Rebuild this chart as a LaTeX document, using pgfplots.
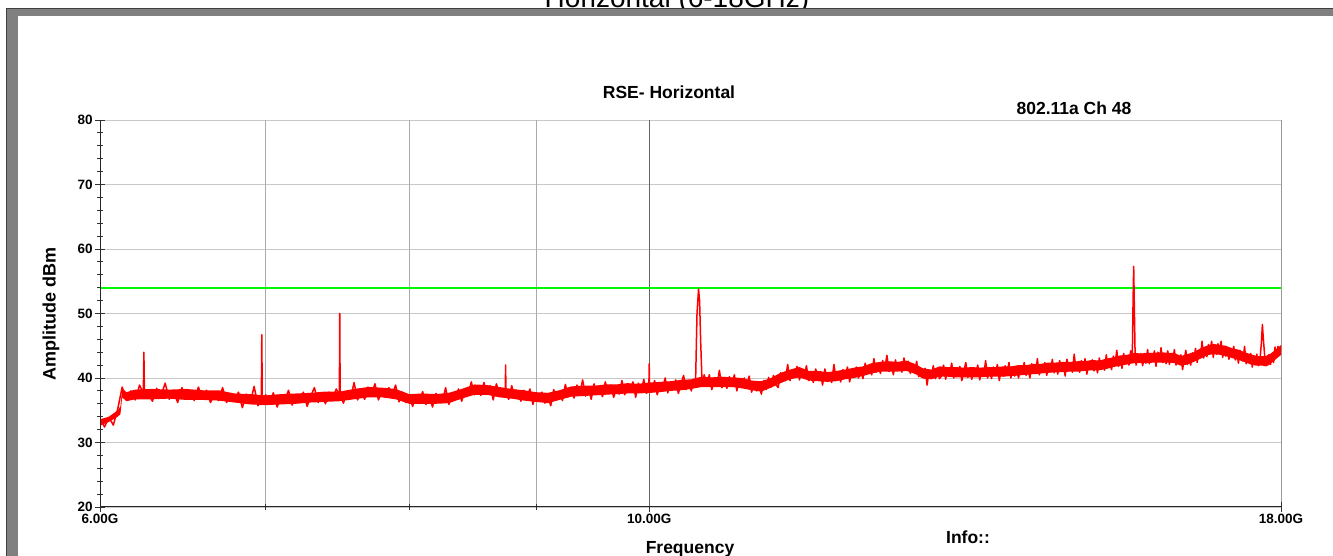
\documentclass[border=0pt]{standalone}
\usepackage{pgfplots}
\pgfplotsset{compat=1.18}
\usepackage{pgfplotstable}
\usepackage{fontspec}
\setmainfont{Liberation Sans}
\definecolor{tracered}{RGB}{255,0,0}
\definecolor{limitgreen}{RGB}{0,250,0}
\definecolor{hgrid}{RGB}{200,200,200}
\definecolor{vgrid}{RGB}{170,170,170}
\definecolor{vgriddark}{RGB}{100,100,100}
\definecolor{framegray}{RGB}{128,128,128}

% dense core of the noise band: upper edge forward, lower edge backward
\pgfplotstableread[row sep=\\]{
f dB\\
6.000 33.6\\ 6.050 34.0\\ 6.100 35.0\\ 6.115 35.6\\ 6.125 38.4\\ 6.150 37.8\\ 6.200 38.2\\ 6.300 38.3\\
6.400 38.2\\ 6.500 38.3\\ 6.600 38.1\\ 6.700 38.1\\ 6.800 37.6\\ 6.900 37.5\\ 7.000 37.3\\ 7.100 37.5\\
7.200 37.6\\ 7.300 37.7\\ 7.400 37.9\\ 7.500 37.9\\ 7.600 38.3\\ 7.700 38.6\\ 7.800 38.5\\ 7.900 38.3\\
8.000 37.5\\ 8.100 37.6\\ 8.200 37.5\\ 8.300 37.7\\ 8.400 38.3\\ 8.500 39.0\\ 8.600 38.9\\ 8.700 38.6\\
8.800 38.3\\ 8.900 38.1\\ 9.000 37.8\\ 9.100 37.7\\ 9.200 38.1\\ 9.300 38.7\\ 9.400 38.8\\ 9.500 38.8\\
9.600 39.0\\ 9.700 39.0\\ 9.800 39.2\\ 9.900 39.1\\ 10.000 39.3\\ 10.100 39.4\\ 10.200 39.5\\ 10.300 39.7\\
10.400 39.8\\ 10.500 40.2\\ 10.600 40.1\\ 10.700 40.2\\ 10.800 40.1\\ 10.900 40.0\\ 11.000 39.6\\ 11.100 39.5\\
11.200 40.0\\ 11.300 40.8\\ 11.400 41.3\\ 11.500 41.7\\ 11.600 41.1\\ 11.700 41.1\\ 11.800 40.9\\ 11.900 41.1\\
12.000 41.3\\ 12.100 41.6\\ 12.200 41.8\\ 12.300 42.3\\ 12.400 42.5\\ 12.500 42.6\\ 12.600 42.5\\ 12.700 42.7\\
12.800 42.2\\ 12.900 41.5\\ 13.000 41.3\\ 13.100 41.8\\ 13.200 41.7\\ 13.300 41.7\\ 13.400 41.6\\ 13.500 41.7\\
13.600 41.6\\ 13.700 41.7\\ 13.800 41.7\\ 13.900 41.8\\ 14.000 41.8\\ 14.100 42.0\\ 14.200 42.0\\ 14.300 42.2\\
14.400 42.2\\ 14.500 42.4\\ 14.600 42.4\\ 14.700 42.5\\ 14.800 42.5\\ 14.900 42.6\\ 15.000 42.6\\ 15.100 42.8\\
15.200 42.7\\ 15.300 43.0\\ 15.400 43.2\\ 15.500 43.5\\ 15.600 43.6\\ 15.700 43.9\\ 15.800 43.8\\ 15.900 43.9\\
16.000 43.9\\ 16.100 44.0\\ 16.200 43.9\\ 16.300 43.9\\ 16.400 43.4\\ 16.500 43.7\\ 16.600 44.0\\ 16.700 44.6\\
16.800 45.0\\ 16.900 45.3\\ 17.000 45.1\\ 17.100 45.0\\ 17.200 44.6\\ 17.300 44.4\\ 17.400 44.0\\ 17.500 43.7\\
17.600 43.4\\ 17.650 43.4\\ 17.700 43.4\\ 17.750 43.4\\ 17.800 43.6\\ 17.900 44.3\\ 18.000 45.1\\
18.000 43.6\\ 17.900 42.8\\ 17.800 42.0\\ 17.750 41.8\\ 17.700 41.9\\ 17.650 41.9\\ 17.600 41.9\\ 17.500 42.1\\
17.400 42.5\\ 17.300 42.8\\ 17.200 43.1\\ 17.100 43.4\\ 17.000 43.6\\ 16.900 43.7\\ 16.800 43.5\\ 16.700 43.0\\
16.600 42.5\\ 16.500 42.1\\ 16.400 41.9\\ 16.300 42.3\\ 16.200 42.4\\ 16.100 42.4\\ 16.000 42.4\\ 15.900 42.3\\
15.800 42.3\\ 15.700 42.3\\ 15.600 42.1\\ 15.500 41.9\\ 15.400 41.7\\ 15.300 41.4\\ 15.200 41.2\\ 15.100 41.2\\
15.000 41.1\\ 14.900 41.0\\ 14.800 41.0\\ 14.700 40.9\\ 14.600 40.9\\ 14.500 40.8\\ 14.400 40.7\\ 14.300 40.6\\
14.200 40.5\\ 14.100 40.4\\ 14.000 40.3\\ 13.900 40.2\\ 13.800 40.2\\ 13.700 40.2\\ 13.600 40.1\\ 13.500 40.1\\
13.400 40.1\\ 13.300 40.1\\ 13.200 40.2\\ 13.100 40.2\\ 13.000 39.8\\ 12.900 39.9\\ 12.800 40.7\\ 12.700 41.1\\
12.600 41.0\\ 12.500 41.0\\ 12.400 41.0\\ 12.300 40.7\\ 12.200 40.3\\ 12.100 40.0\\ 12.000 39.8\\ 11.900 39.5\\
11.800 39.4\\ 11.700 39.5\\ 11.600 39.6\\ 11.500 40.1\\ 11.400 39.8\\ 11.300 39.2\\ 11.200 38.5\\ 11.100 37.9\\
11.000 38.1\\ 10.900 38.4\\ 10.800 38.6\\ 10.700 38.6\\ 10.600 38.6\\ 10.500 38.6\\ 10.400 38.3\\ 10.300 38.1\\
10.200 38.0\\ 10.100 37.8\\ 10.000 37.7\\ 9.900 37.6\\ 9.800 37.6\\ 9.700 37.5\\ 9.600 37.4\\ 9.500 37.3\\
9.400 37.2\\ 9.300 37.1\\ 9.200 36.6\\ 9.100 36.1\\ 9.000 36.3\\ 8.900 36.5\\ 8.800 36.8\\ 8.700 37.0\\
8.600 37.4\\ 8.500 37.4\\ 8.400 36.8\\ 8.300 36.1\\ 8.200 36.0\\ 8.100 36.0\\ 8.000 36.0\\ 7.900 36.7\\
7.800 37.0\\ 7.700 37.0\\ 7.600 36.7\\ 7.500 36.4\\ 7.400 36.3\\ 7.300 36.2\\ 7.200 36.0\\ 7.100 35.9\\
7.000 35.8\\ 6.900 35.9\\ 6.800 36.2\\ 6.700 36.5\\ 6.600 36.6\\ 6.500 36.6\\ 6.400 36.8\\ 6.300 36.7\\
6.200 36.7\\ 6.150 36.4\\ 6.125 37.0\\ 6.115 34.4\\ 6.100 34.0\\ 6.050 33.2\\ 6.000 32.6\\ 6.000 33.6\\
}\envpoly

% sampled trace (spikes included)
\pgfplotstableread[row sep=\\]{
f dB\\
6.000 33.8\\ 6.025 32.4\\ 6.050 33.9\\ 6.075 32.7\\ 6.100 35.2\\ 6.125 38.6\\ 6.150 36.6\\ 6.175 38.0\\
6.200 36.6\\ 6.225 38.9\\ 6.247 37.6\\ 6.250 44.0\\ 6.253 37.8\\ 6.275 37.7\\ 6.300 36.4\\ 6.325 38.4\\
6.350 37.2\\ 6.375 39.2\\ 6.400 36.7\\ 6.425 38.0\\ 6.450 36.2\\ 6.475 38.5\\ 6.500 36.9\\ 6.525 37.9\\
6.550 36.5\\ 6.575 38.6\\ 6.600 36.9\\ 6.625 38.1\\ 6.650 36.2\\ 6.675 37.5\\ 6.700 36.5\\ 6.725 38.5\\
6.750 36.2\\ 6.775 37.6\\ 6.800 36.7\\ 6.825 37.8\\ 6.850 35.4\\ 6.875 37.5\\ 6.900 36.1\\ 6.925 38.7\\
6.950 35.7\\ 6.972 36.8\\ 6.975 46.7\\ 6.978 36.5\\ 7.000 37.4\\
7.025 35.9\\ 7.050 37.7\\ 7.075 35.5\\ 7.100 37.1\\ 7.125 36.5\\ 7.150 38.1\\ 7.175 35.8\\ 7.200 37.4\\
7.225 36.4\\ 7.250 37.8\\ 7.275 35.6\\ 7.300 37.2\\ 7.325 38.5\\ 7.350 36.2\\ 7.375 37.4\\ 7.400 36.0\\
7.425 37.8\\ 7.450 36.8\\ 7.475 38.3\\ 7.497 37.3\\ 7.500 50.0\\ 7.503 37.4\\
7.525 36.1\\ 7.550 37.8\\ 7.575 36.8\\ 7.600 39.3\\ 7.625 36.6\\ 7.650 37.8\\ 7.675 36.7\\ 7.700 38.6\\
7.725 37.5\\ 7.750 39.1\\ 7.775 36.6\\ 7.800 38.2\\ 7.825 37.0\\ 7.850 38.5\\ 7.875 37.4\\ 7.900 38.9\\
7.925 36.3\\ 7.950 37.8\\ 7.975 36.2\\ 8.000 37.1\\
8.025 35.6\\ 8.050 37.4\\ 8.075 36.3\\ 8.100 37.9\\ 8.125 35.9\\ 8.150 37.1\\ 8.175 35.5\\ 8.200 37.6\\
8.225 36.9\\ 8.250 36.2\\ 8.275 38.5\\ 8.300 35.9\\ 8.325 37.5\\ 8.350 36.9\\ 8.375 38.3\\ 8.400 36.4\\
8.425 38.1\\ 8.450 37.3\\ 8.475 39.4\\ 8.500 37.4\\ 8.525 38.6\\ 8.550 37.3\\ 8.575 39.3\\ 8.600 37.8\\
8.625 38.8\\ 8.650 36.6\\ 8.675 39.1\\ 8.700 37.6\\ 8.725 38.3\\ 8.747 37.2\\ 8.750 42.0\\ 8.753 37.5\\
8.775 36.7\\ 8.800 38.8\\ 8.825 36.9\\ 8.850 37.8\\ 8.875 36.4\\ 8.900 38.1\\ 8.925 36.8\\ 8.950 38.3\\
8.975 35.9\\ 9.000 37.5\\ 9.025 36.9\\ 9.050 37.8\\ 9.075 36.1\\ 9.100 37.2\\ 9.125 35.7\\ 9.150 38.2\\
9.175 36.8\\ 9.200 38.0\\ 9.225 36.5\\ 9.250 39.0\\ 9.275 37.1\\ 9.300 38.1\\ 9.325 36.9\\ 9.350 38.9\\
9.375 37.7\\ 9.400 39.7\\ 9.425 37.2\\ 9.450 38.5\\ 9.475 36.7\\ 9.500 39.1\\ 9.525 37.5\\ 9.550 38.5\\
9.575 37.1\\ 9.600 39.4\\ 9.625 37.7\\ 9.650 38.9\\ 9.675 37.0\\ 9.700 38.4\\ 9.725 37.5\\ 9.750 39.6\\
9.775 37.4\\ 9.800 38.9\\ 9.825 38.2\\ 9.850 39.4\\ 9.875 37.0\\ 9.900 39.2\\ 9.925 37.8\\ 9.950 39.8\\
9.975 37.6\\ 9.997 38.4\\ 10.000 42.2\\ 10.003 38.2\\
10.025 37.8\\ 10.050 39.6\\ 10.075 37.4\\ 10.100 39.0\\ 10.125 38.4\\ 10.150 40.0\\ 10.175 37.7\\ 10.200 39.4\\
10.225 38.3\\ 10.250 39.7\\ 10.275 37.6\\ 10.300 39.1\\ 10.325 40.4\\ 10.350 38.2\\ 10.375 39.3\\ 10.400 38.0\\
10.425 39.8\\ 10.440 38.6\\ 10.455 50.0\\ 10.470 53.8\\ 10.480 52.0\\ 10.490 46.0\\ 10.505 38.8\\ 10.525 40.5\\
10.550 39.0\\ 10.575 40.5\\ 10.600 38.2\\ 10.625 39.9\\ 10.650 38.8\\ 10.675 41.2\\ 10.700 38.5\\ 10.725 39.6\\
10.750 38.4\\ 10.775 40.2\\ 10.800 39.1\\ 10.825 40.5\\ 10.850 38.0\\ 10.875 39.7\\ 10.900 38.5\\ 10.925 40.0\\
10.950 38.9\\ 10.975 40.3\\ 11.000 37.8\\ 11.025 39.4\\ 11.050 38.0\\ 11.075 39.0\\ 11.100 37.5\\ 11.125 39.6\\
11.150 38.2\\ 11.175 40.1\\ 11.200 38.6\\ 11.225 40.4\\ 11.250 39.0\\ 11.275 38.5\\ 11.300 40.8\\ 11.325 40.2\\
11.350 39.6\\ 11.375 42.1\\ 11.400 39.6\\
11.425 41.2\\ 11.450 40.5\\ 11.475 41.8\\ 11.500 39.7\\ 11.525 41.2\\ 11.550 40.1\\ 11.575 41.9\\ 11.600 39.6\\
11.625 40.6\\ 11.650 39.3\\ 11.675 41.4\\ 11.700 39.9\\ 11.725 41.0\\ 11.750 38.9\\ 11.775 41.4\\ 11.800 40.0\\
11.825 40.6\\ 11.850 39.3\\ 11.875 42.1\\ 11.900 39.7\\ 11.925 40.7\\ 11.950 39.4\\ 11.975 41.3\\ 12.000 40.1\\
12.025 41.7\\ 12.050 39.4\\ 12.075 41.2\\ 12.100 40.6\\ 12.125 41.7\\ 12.150 40.0\\ 12.175 41.3\\ 12.200 39.9\\
12.225 42.3\\ 12.250 40.9\\ 12.275 42.0\\ 12.300 40.5\\ 12.325 43.0\\ 12.350 40.9\\ 12.375 41.9\\ 12.400 40.7\\
12.425 42.7\\ 12.450 41.5\\ 12.475 43.5\\ 12.500 41.0\\ 12.525 42.3\\ 12.550 40.5\\ 12.575 42.8\\ 12.600 41.2\\
12.625 42.2\\ 12.650 40.9\\ 12.675 43.1\\ 12.700 41.4\\ 12.725 42.6\\ 12.750 40.7\\ 12.775 41.8\\ 12.800 40.7\\
12.825 42.6\\ 12.850 40.2\\ 12.875 41.5\\ 12.900 40.5\\ 12.925 41.5\\ 12.950 38.9\\ 12.975 41.2\\ 13.000 40.0\\
13.025 41.9\\ 13.050 39.9\\ 13.075 41.2\\ 13.100 39.9\\ 13.125 40.3\\ 13.150 42.0\\ 13.175 39.8\\ 13.200 41.4\\
13.225 40.7\\ 13.250 42.3\\ 13.275 40.0\\ 13.300 41.5\\ 13.325 40.4\\ 13.350 41.8\\ 13.375 39.6\\ 13.400 41.1\\
13.425 42.4\\ 13.450 40.1\\ 13.475 41.2\\ 13.500 39.8\\ 13.525 41.6\\ 13.550 40.5\\ 13.575 42.0\\ 13.600 39.7\\
13.625 41.4\\ 13.650 40.3\\ 13.675 42.7\\ 13.700 40.0\\ 13.725 41.1\\ 13.750 39.9\\ 13.775 41.7\\ 13.800 40.6\\
13.825 42.1\\ 13.850 39.6\\ 13.875 41.3\\ 13.900 40.3\\ 13.925 41.9\\ 13.950 40.9\\ 13.975 42.4\\ 14.000 40.0\\
14.025 41.7\\ 14.050 40.3\\ 14.075 41.4\\ 14.100 40.0\\ 14.125 41.8\\ 14.150 40.7\\ 14.175 42.4\\ 14.200 40.4\\
14.225 41.6\\ 14.250 40.0\\ 14.275 42.2\\ 14.300 41.5\\ 14.325 40.7\\ 14.350 43.0\\ 14.375 40.5\\ 14.400 42.0\\
14.425 41.2\\ 14.450 42.4\\ 14.475 40.4\\ 14.500 42.0\\ 14.525 41.0\\ 14.550 42.9\\ 14.575 40.8\\ 14.600 41.8\\
14.625 40.6\\ 14.650 42.7\\ 14.675 41.3\\ 14.700 42.4\\ 14.725 40.3\\ 14.750 42.9\\ 14.775 41.6\\ 14.800 42.3\\
14.825 40.9\\ 14.850 43.7\\ 14.875 41.2\\ 14.900 42.1\\ 14.925 40.9\\ 14.950 42.7\\ 14.975 41.4\\ 15.000 43.0\\
15.025 40.6\\ 15.050 42.3\\ 15.075 41.8\\ 15.100 42.8\\ 15.125 41.1\\ 15.150 42.3\\ 15.175 40.8\\ 15.200 43.1\\
15.225 41.7\\ 15.250 42.7\\ 15.275 41.2\\ 15.300 43.6\\ 15.325 41.6\\ 15.350 42.5\\ 15.375 41.3\\ 15.400 43.4\\
15.425 42.2\\ 15.450 44.3\\ 15.475 41.8\\ 15.500 43.2\\ 15.525 41.5\\ 15.550 43.8\\ 15.575 42.3\\ 15.600 43.3\\
15.625 42.0\\ 15.650 44.2\\ 15.675 43.8\\ 15.685 52.0\\ 15.695 57.3\\ 15.705 50.5\\ 15.715 44.0\\ 15.730 42.0\\
15.750 43.5\\ 15.775 42.6\\ 15.800 43.8\\ 15.825 41.9\\ 15.850 43.2\\ 15.875 42.3\\ 15.900 44.4\\ 15.925 42.2\\
15.950 43.8\\ 15.975 43.0\\ 16.000 44.2\\ 16.025 41.8\\ 16.050 44.0\\ 16.075 42.6\\ 16.100 44.7\\ 16.125 42.4\\
16.150 43.6\\ 16.175 42.2\\ 16.200 44.2\\ 16.225 42.1\\ 16.250 43.7\\ 16.275 42.9\\ 16.300 44.4\\ 16.325 42.0\\
16.350 43.5\\ 16.375 42.3\\ 16.400 43.6\\ 16.425 41.3\\ 16.450 42.9\\ 16.475 44.3\\ 16.500 42.1\\ 16.525 43.3\\
16.550 42.0\\ 16.575 43.9\\ 16.600 42.9\\ 16.625 44.6\\ 16.650 42.4\\ 16.675 44.2\\ 16.700 43.2\\ 16.725 45.7\\
16.750 43.1\\ 16.775 44.3\\ 16.800 43.3\\ 16.825 45.2\\ 16.850 44.2\\ 16.875 45.7\\ 16.900 43.2\\ 16.925 44.9\\
16.950 43.7\\ 16.975 45.3\\ 17.000 44.3\\ 17.025 45.7\\ 17.050 43.2\\ 17.075 44.9\\ 17.100 43.4\\ 17.125 44.5\\
17.150 42.9\\ 17.175 44.6\\ 17.200 43.4\\ 17.225 44.9\\ 17.250 42.8\\ 17.275 44.0\\ 17.300 42.3\\ 17.325 44.3\\
17.350 43.5\\ 17.375 42.6\\ 17.400 44.9\\ 17.425 42.2\\ 17.450 43.6\\ 17.475 42.7\\ 17.500 43.8\\ 17.525 41.7\\
17.550 43.2\\ 17.575 42.1\\ 17.600 43.7\\ 17.625 41.9\\ 17.650 42.6\\ 17.675 45.5\\ 17.690 48.3\\ 17.705 46.2\\
17.720 44.5\\ 17.735 42.8\\ 17.750 42.2\\ 17.775 43.4\\ 17.800 43.6\\ 17.825 42.1\\ 17.850 43.8\\ 17.875 42.4\\
17.900 44.8\\ 17.925 43.3\\ 17.950 44.9\\ 17.975 43.5\\ 18.000 45.0\\
}\trace

\begin{document}
\begin{tikzpicture}[x=1pt,y=1pt]
\useasboundingbox (0,0) rectangle (1333,556);
\fill[white] (0,0) rectangle (1333,556);
\node[anchor=base, font=\fontsize{28}{30}\selectfont, inner sep=0pt] at (677,548) {Horizontal (6-18GHz)};
\fill[framegray] (7,540) rectangle (1333,547);
\fill[framegray] (7,0) rectangle (18,547);
\draw[black!75, line width=1pt] (6,547.5) -- (1333,547.5);
\draw[black!75, line width=1pt] (6.5,0) -- (6.5,547.5);

\begin{axis}[
  at={(100pt,49pt)}, anchor=south west,
  scale only axis, width=1181pt, height=387pt,
  xmode=log, xmin=6, xmax=18, ymin=20, ymax=80,
  axis line style={draw=none},
  xtick pos=bottom, ytick pos=left,
  xtick={6,10,18}, xticklabels={6.00G,10.00G,18.00G},
  extra x ticks={7,8,9}, extra x tick labels={},
  extra x tick style={major tick length=6pt},
  ytick={20,30,40,50,60,70,80}, minor y tick num=4,
  xmajorgrids, ymajorgrids,
  x grid style={vgrid, line width=0.8pt},
  y grid style={hgrid, line width=0.9pt},
  tick align=center,
  major tick length=10pt, minor tick length=6pt,
  tick style={black!80, line width=0.8pt},
  /pgf/number format/assume math mode=true,
  ticklabel style={font=\bfseries\fontsize{13.5}{14}\selectfont},
  xticklabel style={yshift=1pt},
  yticklabel style={xshift=1pt},
]
\draw[vgriddark, line width=1.2pt] (axis cs:10,20) -- (axis cs:10,80);
\addplot[draw=limitgreen, line width=1.8pt, forget plot] coordinates {(6,54) (18,54)};
\addplot[fill=tracered, draw=none, forget plot] table[x=f, y=dB]{\envpoly};
\addplot[draw=tracered, line width=1.5pt, line join=round, forget plot] table[x=f, y=dB]{\trace};
\draw[black!85, line width=1pt] (rel axis cs:0,1) -- (rel axis cs:0,0) -- (rel axis cs:1,0) -- (rel axis cs:1,1);
\end{axis}

\node[font=\bfseries\fontsize{17.5}{18}\selectfont] at (669,464) {RSE- Horizontal};
\node[font=\bfseries\fontsize{17.5}{18}\selectfont] at (1074,448) {802.11a Ch 48};
\node[anchor=base, font=\bfseries\fontsize{17.5}{18}\selectfont] at (690,2) {Frequency};
\node[anchor=base, font=\bfseries\fontsize{17.5}{18}\selectfont] at (968,12) {Info::};
\node[rotate=90, font=\bfseries\fontsize{18}{19}\selectfont] at (51,242) {Amplitude dBm};
\end{tikzpicture}
\end{document}
